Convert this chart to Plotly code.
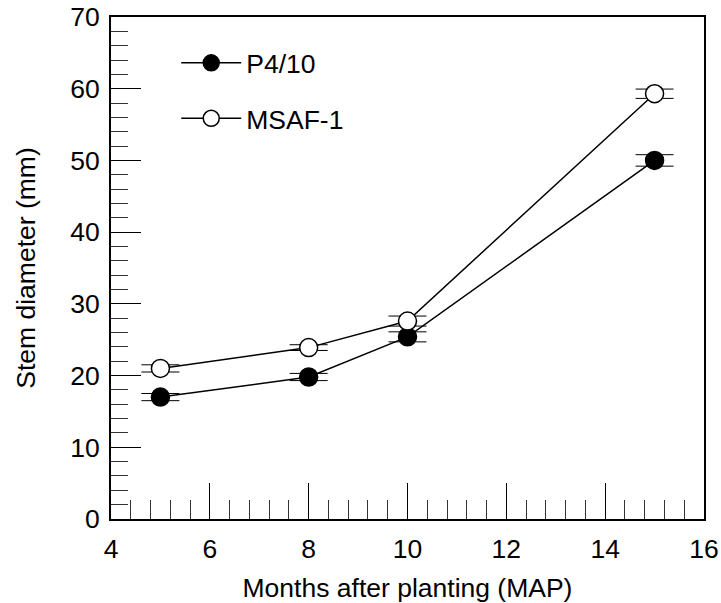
import plotly.graph_objects as go

months = [5, 8, 10, 15]
p410 = [17.0, 19.8, 25.4, 50.0]
p410_err = [0.5, 0.5, 0.7, 0.8]
msaf = [21.0, 23.9, 27.6, 59.3]
msaf_err = [0.5, 0.4, 0.7, 0.65]

FONT = "Arial, Liberation Sans, sans-serif"
FS = 26.5

fig = go.Figure()
fig.add_trace(go.Scatter(
    x=months, y=p410, name="P4/10", mode="lines+markers", legendgroup="a",
    line=dict(color="black", width=1.5),
    marker=dict(size=18, color="black", line=dict(color="black", width=1.5)),
    error_y=dict(type="data", array=p410_err, visible=True, color="black", thickness=1, width=19),
))
fig.add_trace(go.Scatter(
    x=months, y=msaf, name="MSAF-1", mode="lines+markers", legendgroup="b",
    line=dict(color="black", width=1.5),
    marker=dict(size=18, color="white", line=dict(color="black", width=1.5)),
    error_y=dict(type="data", array=msaf_err, visible=True, color="black", thickness=1, width=19),
))

fig.update_layout(
    width=721, height=603,
    margin=dict(l=111, r=17, t=17, b=84),
    paper_bgcolor="white", plot_bgcolor="white",
    font=dict(family=FONT, size=FS, color="black"),
    showlegend=True,
    legend=dict(x=0.11, y=0.956, xanchor="left", yanchor="top", bgcolor="rgba(0,0,0,0)",
                font=dict(size=FS), tracegroupgap=18, itemwidth=60),
)
fig.update_xaxes(
    range=[4, 16], tick0=4, dtick=2, showgrid=False, zeroline=False, automargin=False,
    showline=True, linecolor="black", linewidth=2, mirror=True,
    ticks="inside", ticklen=36, tickwidth=1, tickcolor="black", ticklabelstandoff=5,
    minor=dict(ticks="inside", dtick=0.4, tick0=4, ticklen=19, tickwidth=1, tickcolor="#333", showgrid=False),
    title=dict(text="Months after planting (MAP)", font=dict(size=FS), standoff=20),
)
fig.update_yaxes(
    range=[0, 70], tick0=0, dtick=10, showgrid=False, zeroline=False, automargin=False,
    showline=True, linecolor="black", linewidth=2, mirror=True,
    ticks="inside", ticklen=30, tickwidth=1, tickcolor="black", ticklabelstandoff=4,
    minor=dict(ticks="inside", dtick=2, tick0=0, ticklen=17, tickwidth=1, tickcolor="#333", showgrid=False),
    title=dict(text="Stem diameter (mm)", font=dict(size=FS), standoff=27),
)

fig.write_html("out.html")
